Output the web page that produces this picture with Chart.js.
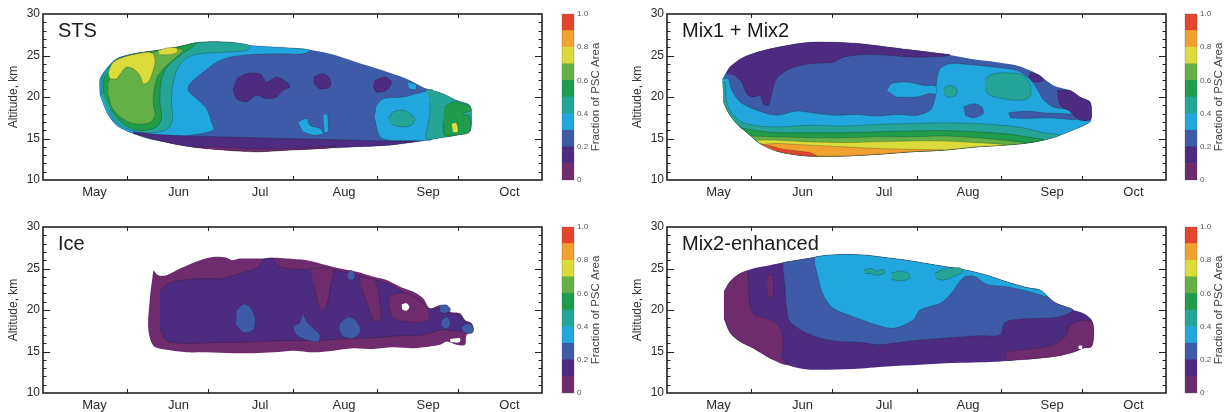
<!DOCTYPE html>
<html>
<head>
<meta charset="utf-8">
<script src="https://cdn.jsdelivr.net/npm/chart.js@4.4.0/dist/chart.umd.min.js"></script>
<style>
  body { margin: 0; background: #fff; width: 1231px; height: 412px; overflow: hidden; position: relative; }
  canvas { position: absolute; }
</style>
</head>
<body>
<canvas id="p0" width="545" height="206" style="left:0;top:0"></canvas>
<canvas id="c0" width="52" height="206" style="left:556px;top:0"></canvas>
<canvas id="p1" width="545" height="206" style="left:624px;top:0"></canvas>
<canvas id="c1" width="52" height="206" style="left:1179px;top:0"></canvas>
<canvas id="p2" width="545" height="206" style="left:0;top:213px"></canvas>
<canvas id="c2" width="52" height="206" style="left:556px;top:213px"></canvas>
<canvas id="p3" width="545" height="206" style="left:624px;top:213px"></canvas>
<canvas id="c3" width="52" height="206" style="left:1179px;top:213px"></canvas>
<script>
//<![CDATA[

// x axis = days since 1 May
const monthNames = ['May', 'Jun', 'Jul', 'Aug', 'Sep', 'Oct'];
const monthLabelDay = [19, 50, 80, 111, 142, 172];
const monthStartDay = [31, 61, 92, 123, 153];
const altTicks = [11, 12, 13, 14, 15, 16, 17, 18, 19, 20, 21, 22, 23, 24, 25, 26, 27, 28, 29];
const barTicks = [0, 0.2, 0.4, 0.6, 0.8, 1.0];
const levelColors = ['#6e2c6f', '#4c2b80', '#3d5ba6', '#21a7dd', '#24a597', '#1f9d4b', '#63b146', '#dbdb3c', '#f0a130', '#e3452d'];

// contour regions: [level, [[day, km], ...]], painted in order (level -1 = no data)
const stsRegions = [
  [2, [[21.0,22.2],[23.4,23.4],[27.1,24.6],[33.3,25.2],[41.9,25.6],[49.2,26.0],[57.8,26.6],[68.9,26.6],[76.3,26.2],[86.1,26.0],[95.9,25.8],[105.8,25.2],[115.6,24.2],[125.4,23.2],[134.0,22.2],[141.4,21.0],[147.5,20.4],[152.4,19.6],[157.3,19.0],[158.0,17.8],[157.3,15.8],[152.4,15.4],[145.1,15.0],[137.7,14.6],[127.9,14.2],[115.6,14.0],[103.3,13.8],[91.0,13.6],[78.7,13.4],[66.4,13.6],[54.2,14.0],[41.9,14.8],[33.3,15.6],[27.1,16.6],[23.4,18.2],[21.0,20.2]]],
  [3, [[21.0,20.2],[21.0,22.2],[23.4,23.4],[27.1,24.6],[33.3,25.2],[41.9,25.6],[49.2,26.0],[57.8,26.6],[68.9,26.6],[76.3,26.2],[86.1,26.0],[95.9,25.8],[98.4,25.6],[95.9,25.2],[86.1,25.2],[76.3,25.1],[68.9,24.8],[64.0,24.2],[59.1,23.0],[54.2,21.6],[53.5,20.8],[56.6,19.8],[60.3,18.6],[62.1,17.0],[62.8,16.0],[54.2,15.4],[41.9,14.8],[33.3,15.6],[27.1,16.6],[23.4,18.2]]],
  [4, [[21.6,20.2],[21.6,22.2],[23.8,23.4],[27.1,24.5],[33.3,25.2],[41.9,25.6],[49.2,26.0],[57.8,26.6],[68.9,26.6],[76.3,26.2],[75.0,25.6],[66.4,25.4],[57.8,25.2],[52.9,24.7],[49.9,23.6],[48.0,21.8],[47.4,19.4],[47.8,17.4],[46.2,16.2],[40.6,15.7],[33.3,15.9],[27.1,16.9],[24.1,18.4]]],
  [5, [[22.4,20.4],[22.4,22.2],[24.7,23.2],[27.1,24.4],[33.3,25.1],[41.9,25.6],[49.2,26.0],[56.6,26.5],[54.2,25.8],[50.5,25.0],[46.2,23.8],[43.7,22.2],[43.1,19.4],[43.7,17.4],[41.9,16.4],[38.2,16.0],[33.3,16.1],[28.4,17.1],[24.7,18.6]]],
  [6, [[24.1,21.8],[25.9,23.0],[29.6,24.2],[35.7,25.0],[41.9,25.5],[49.2,25.9],[51.7,25.6],[49.2,24.8],[45.0,23.6],[41.9,22.2],[40.6,19.4],[41.3,17.8],[39.4,16.9],[33.3,16.8],[28.4,17.6],[25.3,18.8],[24.1,20.2]]],
  [7, [[24.1,23.0],[25.9,24.2],[30.8,24.9],[38.2,25.4],[40.6,25.2],[41.3,24.2],[40.0,22.6],[38.8,21.8],[37.0,21.6],[35.7,22.6],[33.3,23.4],[30.8,23.6],[29.0,23.0],[27.1,22.2],[24.7,22.2]]],
  [7, [[42.5,25.6],[45.6,25.9],[49.2,25.9],[49.5,25.4],[46.8,25.1],[43.1,25.1]]],
  [1, [[33.3,15.8],[41.9,15.5],[54.2,15.3],[66.4,15.2],[78.7,15.1],[91.0,15.0],[103.3,14.9],[115.6,14.8],[127.9,14.7],[139.0,14.7],[140.5,14.75],[137.7,14.6],[127.9,14.2],[115.6,14.0],[103.3,13.8],[91.0,13.6],[78.7,13.4],[66.4,13.6],[54.2,14.0],[41.9,14.8],[33.3,15.6]]],
  [0, [[55.0,13.95],[66.0,13.95],[80.0,13.75],[95.0,13.85],[108.0,14.05],[103.3,13.8],[91.0,13.6],[78.7,13.4],[66.4,13.6]]],
  [1, [[71.4,22.2],[75.0,22.8],[80.0,22.8],[82.4,21.8],[86.1,22.4],[89.8,21.8],[91.0,21.2],[88.6,20.8],[86.1,20.0],[82.4,19.8],[78.7,20.2],[75.0,19.4],[71.4,19.8],[70.1,21.0]]],
  [1, [[99.6,22.4],[103.3,22.8],[105.8,22.2],[105.8,21.2],[102.1,21.0],[99.9,21.6]]],
  [1, [[122.3,22.0],[126.0,22.4],[128.5,21.8],[126.6,20.8],[122.9,20.6],[121.7,21.4]]],
  [3, [[94.1,17.0],[97.2,17.4],[98.4,16.6],[102.1,16.2],[103.3,15.6],[99.6,15.4],[95.9,15.8]]],
  [3, [[103.3,17.8],[104.8,18.0],[105.1,15.8],[103.9,15.7]]],
  [3, [[134.5,21.8],[137.5,21.5],[137.5,20.9],[135.0,21.0]]],
  [3, [[123.0,19.0],[125.4,19.8],[132.8,20.0],[140.1,20.6],[143.8,20.8],[143.8,15.0],[140.1,14.75],[135.2,14.75],[127.9,14.8],[124.2,15.2],[122.3,17.4]]],
  [4, [[127.3,17.4],[129.1,18.2],[132.8,18.4],[135.2,18.0],[137.1,17.4],[135.9,16.6],[131.6,16.4],[128.5,16.7]]],
  [4, [[141.4,21.0],[147.5,20.4],[152.4,19.6],[157.3,19.0],[158.0,17.8],[157.3,15.8],[152.4,15.4],[145.1,15.0],[141.4,14.9],[141.4,15.8],[142.6,17.8],[142.6,19.4]]],
  [5, [[148.1,18.8],[151.2,19.4],[154.9,19.2],[157.3,18.9],[158.0,18.4],[154.9,18.0],[157.3,17.6],[157.3,15.8],[152.4,15.4],[148.1,15.4],[147.5,17.0]]],
  [7, [[150.7,16.8],[152.4,16.9],[153.0,15.8],[151.2,15.7]]]
];

const mixRegions = [
  [2, [[20.5,22.2],[23.2,23.6],[28.2,24.8],[35.5,25.6],[44.1,26.2],[52.7,26.6],[62.6,26.6],[72.4,26.4],[82.2,26.0],[92.1,25.6],[101.9,25.2],[111.7,24.6],[121.6,24.2],[129.0,23.8],[133.9,23.2],[137.5,22.6],[142.5,21.4],[148.6,20.8],[152.3,20.0],[156.0,19.4],[156.6,17.8],[156.0,17.0],[151.1,16.2],[144.9,15.4],[138.8,14.8],[131.4,14.4],[124.0,14.2],[114.2,14.0],[101.9,13.6],[89.6,13.4],[77.3,13.1],[65.0,12.9],[52.7,12.9],[46.6,13.1],[40.4,13.5],[34.3,14.4],[30.6,15.4],[26.3,16.6],[23.2,17.8],[20.8,19.4]]],
  [1, [[22.0,22.8],[23.2,23.6],[28.2,24.8],[35.5,25.6],[44.1,26.2],[52.7,26.6],[62.6,26.6],[72.4,26.4],[82.2,26.0],[92.1,25.6],[101.9,25.2],[104.4,25.1],[101.9,24.9],[92.1,24.8],[82.2,25.0],[72.4,25.1],[65.0,24.8],[61.3,24.2],[52.7,24.0],[45.4,23.4],[40.4,22.2],[38.6,20.4],[37.4,19.0],[35.5,19.2],[34.3,20.2],[31.8,20.0],[29.4,20.4],[27.5,21.8],[25.1,22.6]]],
  [1, [[133.9,23.0],[137.5,22.6],[138.8,22.0],[135.7,21.8],[133.2,22.4]]],
  [3, [[20.5,22.2],[22.6,22.2],[23.9,20.8],[27.0,19.4],[33.1,18.4],[40.4,17.8],[47.8,18.3],[55.2,18.0],[62.6,17.8],[69.9,17.9],[77.3,17.7],[84.7,17.9],[92.1,17.8],[97.0,18.4],[98.8,19.8],[99.4,21.8],[100.7,23.4],[104.4,24.0],[111.7,23.9],[120.3,23.6],[129.0,23.2],[133.0,22.4],[136.5,21.0],[138.5,19.8],[142.5,18.8],[149.8,18.4],[156.0,17.4],[156.0,17.0],[151.1,16.2],[144.9,15.4],[138.8,14.8],[131.4,14.4],[124.0,14.2],[114.2,14.0],[101.9,13.6],[89.6,13.4],[77.3,13.1],[65.0,12.9],[52.7,12.9],[46.6,13.1],[40.4,13.5],[34.3,14.4],[30.6,15.4],[26.3,16.6],[23.2,17.8],[20.8,19.4]]],
  [3, [[81.0,20.8],[82.8,21.6],[88.4,21.8],[94.5,21.4],[99.2,21.3],[99.2,20.4],[96.4,20.4],[92.1,20.0],[84.7,20.0]]],
  [2, [[109.3,18.8],[113.0,19.2],[116.0,18.8],[116.6,18.0],[113.0,17.5],[109.9,17.8]]],
  [2, [[125.9,18.1],[132.6,18.3],[138.8,18.1],[144.9,18.0],[151.1,17.8],[151.1,17.3],[144.9,17.4],[138.8,17.5],[132.6,17.4],[126.5,17.5]]],
  [4, [[117.3,22.2],[120.3,22.8],[126.5,22.9],[131.5,22.6],[134.0,21.4],[133.8,20.0],[130.2,19.6],[124.0,19.8],[119.1,20.2],[117.3,21.0]]],
  [4, [[101.9,21.0],[104.4,21.4],[106.8,21.0],[106.6,20.2],[103.7,20.0],[102.1,20.4]]],
  [1, [[143.7,20.8],[148.6,20.8],[152.3,20.0],[156.0,19.4],[156.6,17.8],[156.0,17.2],[152.3,17.2],[149.8,17.8],[148.0,18.4],[145.5,18.8],[144.3,19.6]]],
  [4, [[20.5,21.8],[21.4,21.8],[22.0,19.4],[24.5,17.8],[28.2,16.9],[34.3,16.5],[40.4,16.4],[52.7,16.6],[65.0,16.5],[77.3,16.7],[89.6,16.8],[101.9,16.9],[114.2,16.8],[126.5,16.5],[132.6,16.2],[138.8,15.7],[144.9,15.4],[138.8,14.8],[131.4,14.4],[124.0,14.2],[114.2,14.0],[101.9,13.6],[89.6,13.4],[77.3,13.1],[65.0,12.9],[52.7,12.9],[46.6,13.1],[40.4,13.5],[34.3,14.4],[30.6,15.4],[26.3,16.6],[23.2,17.8],[20.8,19.4]]],
  [5, [[26.9,16.3],[34.3,15.9],[40.4,15.7],[52.7,15.7],[65.0,15.7],[77.3,15.8],[89.6,15.9],[101.9,15.95],[114.2,15.8],[126.5,15.5],[132.6,15.2],[138.8,14.9],[138.8,14.8],[131.4,14.4],[124.0,14.2],[114.2,14.0],[101.9,13.6],[89.6,13.4],[77.3,13.1],[65.0,12.9],[52.7,12.9],[46.6,13.1],[40.4,13.5],[34.3,14.4],[30.6,15.4],[26.3,16.6]]],
  [6, [[31.2,15.3],[40.4,15.2],[52.7,15.1],[65.0,15.1],[77.3,15.2],[89.6,15.2],[101.9,15.3],[114.2,15.1],[124.0,14.8],[132.0,14.5],[131.4,14.4],[124.0,14.2],[114.2,14.0],[101.9,13.6],[89.6,13.4],[77.3,13.1],[65.0,12.9],[52.7,12.9],[46.6,13.1],[40.4,13.5],[34.3,14.4],[30.6,15.4]]],
  [7, [[33.1,14.8],[40.4,14.8],[52.7,14.6],[65.0,14.5],[77.3,14.6],[89.6,14.7],[101.9,14.7],[114.2,14.5],[124.0,14.3],[124.0,14.2],[114.2,14.0],[101.9,13.6],[89.6,13.4],[77.3,13.1],[65.0,12.9],[52.7,12.9],[46.6,13.1],[40.4,13.5],[34.3,14.4]]],
  [8, [[35.5,14.3],[40.4,14.4],[46.6,14.3],[52.7,14.2],[65.0,14.0],[77.3,13.8],[89.6,13.7],[101.9,13.6],[89.6,13.4],[77.3,13.1],[65.0,12.9],[52.7,12.9],[46.6,13.1],[40.4,13.5],[35.5,14.1]]],
  [9, [[34.3,14.4],[38.0,14.1],[42.9,13.7],[47.8,13.5],[52.7,13.3],[55.2,12.9],[52.7,12.9],[46.6,13.1],[40.4,13.5]]]
];

const iceRegions = [
  [0, [[40.7,24.8],[42.5,24.2],[45.6,24.2],[50.5,25.0],[57.9,26.0],[62.8,26.4],[67.7,26.3],[69.6,26.0],[72.6,26.2],[80.0,26.2],[85.0,26.3],[89.8,26.2],[97.2,26.0],[104.6,25.4],[109.5,25.0],[115.7,24.6],[121.8,24.0],[126.7,23.6],[131.6,22.8],[136.6,22.2],[140.2,21.4],[142.7,20.2],[146.4,20.6],[148.9,20.4],[150.1,19.8],[153.8,19.6],[155.6,18.8],[158.1,18.4],[158.7,17.4],[156.2,17.0],[155.6,15.8],[152.5,15.8],[148.9,16.2],[146.4,15.8],[142.7,15.6],[136.6,15.4],[129.2,15.5],[121.8,15.3],[114.4,15.4],[107.1,15.1],[99.7,14.9],[92.3,15.1],[85.0,14.9],[77.6,14.8],[70.2,14.8],[60.4,14.9],[53.0,14.9],[45.6,15.2],[40.7,15.7],[38.8,17.8],[39.5,21.8]]],
  [1, [[43.1,22.2],[45.6,23.1],[49.3,23.5],[54.2,23.7],[60.4,23.8],[66.5,23.8],[72.6,24.4],[77.6,24.9],[80.0,25.4],[81.2,26.1],[85.0,26.2],[86.2,25.4],[89.8,25.0],[94.8,24.9],[98.5,24.9],[102.1,25.0],[109.5,24.7],[115.7,24.2],[121.8,23.7],[128.0,23.1],[131.6,22.4],[135.3,21.8],[139.0,21.2],[141.5,20.2],[146.4,20.2],[150.1,19.6],[153.8,19.4],[155.6,18.6],[158.1,18.2],[158.4,17.5],[156.2,17.3],[151.3,17.5],[146.4,17.6],[142.7,17.2],[137.8,16.9],[131.6,16.9],[124.3,16.7],[116.9,16.6],[109.5,16.5],[102.1,16.3],[94.8,16.3],[87.4,16.3],[80.0,16.2],[72.6,16.1],[65.3,16.1],[57.9,16.0],[50.5,16.0],[45.6,16.3],[43.1,17.8]]],
  [0, [[98.5,25.0],[107.1,24.9],[106.1,23.0],[104.0,20.0],[102.1,20.2],[99.9,23.0]]],
  [0, [[116.9,24.0],[122.4,23.6],[124.0,21.4],[124.5,18.7],[121.8,18.8],[119.3,21.0],[117.1,22.8]]],
  [0, [[128.0,21.8],[132.9,22.1],[137.8,21.4],[141.7,20.2],[142.7,19.0],[139.0,18.5],[134.1,18.6],[129.2,19.0],[127.7,20.2]]],
  [2, [[71.4,20.0],[73.9,20.7],[76.3,20.4],[78.2,19.0],[77.6,17.6],[73.9,17.3],[71.2,18.2]]],
  [2, [[96.0,19.6],[97.2,18.6],[99.7,17.8],[102.1,17.0],[101.5,16.2],[97.2,16.4],[93.5,17.0],[92.3,18.0],[94.8,18.4]]],
  [2, [[109.5,18.4],[112.6,19.2],[115.7,18.6],[117.1,17.4],[114.4,16.6],[110.7,16.8],[109.3,17.6]]],
  [2, [[112.2,24.4],[113.8,24.8],[115.0,24.2],[114.2,23.6],[112.6,23.7]]],
  [2, [[146.4,20.6],[148.9,20.6],[150.3,20.0],[148.2,19.6],[146.4,19.8]]],
  [2, [[147.0,18.8],[148.9,19.2],[150.3,18.4],[148.9,17.7],[147.0,18.0]]],
  [2, [[154.4,18.0],[156.8,18.4],[158.7,17.8],[158.1,17.2],[155.0,17.3]]],
  [-1, [[132.3,20.7],[134.1,20.8],[135.1,20.3],[133.9,19.9],[132.4,20.1]]],
  [-1, [[150.1,16.5],[153.8,16.6],[153.5,16.1],[150.3,16.1]]]
];

const enhRegions = [
  [1, [[21.0,22.2],[23.2,23.4],[26.9,24.4],[31.8,25.0],[38.0,25.4],[44.1,25.8],[51.5,26.2],[58.9,26.6],[66.2,26.7],[73.6,26.6],[81.0,26.3],[88.4,26.0],[95.7,25.6],[103.1,25.2],[110.5,24.8],[117.9,24.2],[125.2,23.4],[132.6,22.7],[137.5,22.4],[141.2,21.4],[143.7,20.8],[149.8,20.0],[153.5,19.6],[156.6,18.8],[157.4,17.4],[156.6,15.6],[153.5,15.4],[149.8,14.9],[144.9,14.5],[137.5,14.2],[130.2,14.0],[122.8,13.8],[115.4,13.7],[105.6,13.6],[93.3,13.4],[81.0,13.2],[68.7,12.9],[56.4,12.8],[50.3,12.9],[44.1,13.4],[38.0,14.2],[31.8,15.4],[26.9,16.2],[23.2,17.3],[21.0,19.0]]],
  [0, [[21.0,22.2],[23.2,23.4],[26.9,24.4],[29.6,24.6],[30.0,23.0],[30.6,20.6],[32.4,19.4],[36.7,19.0],[40.4,18.4],[42.3,17.4],[42.9,15.8],[42.3,14.4],[44.1,13.4],[38.0,14.2],[31.8,15.4],[26.9,16.2],[23.2,17.3],[21.0,19.0]]],
  [0, [[36.7,24.0],[38.9,24.2],[39.2,21.8],[37.4,21.4]]],
  [2, [[42.9,25.7],[44.1,25.8],[51.5,26.2],[58.9,26.6],[66.2,26.7],[73.6,26.6],[81.0,26.3],[88.4,26.0],[95.7,25.6],[103.1,25.2],[110.5,24.8],[117.9,24.2],[125.2,23.4],[132.6,22.7],[137.5,22.4],[141.2,21.4],[143.7,20.8],[149.8,20.0],[144.9,19.2],[137.5,19.0],[130.2,18.9],[124.6,18.5],[122.8,17.0],[115.4,16.9],[105.6,16.7],[98.2,16.5],[90.8,16.3],[83.5,16.0],[77.3,15.8],[71.2,16.1],[63.8,16.2],[56.4,16.6],[50.3,17.4],[45.3,18.6],[44.1,20.2],[43.5,22.6],[42.9,24.6]]],
  [3, [[54.6,26.4],[58.9,26.6],[66.2,26.7],[73.6,26.6],[81.0,26.3],[88.4,26.0],[95.7,25.6],[103.1,25.2],[110.5,24.8],[117.9,24.2],[125.2,23.4],[132.6,22.7],[137.5,22.4],[140.0,21.8],[140.0,21.6],[133.8,22.2],[125.2,22.8],[117.9,23.1],[113.0,24.1],[109.3,23.9],[104.3,21.8],[100.7,20.8],[93.3,20.0],[90.8,18.8],[83.5,17.8],[77.3,18.2],[68.7,19.2],[61.3,20.2],[57.6,21.8],[55.8,23.8],[54.6,25.4]]],
  [4, [[72.6,24.8],[75.5,25.0],[77.3,24.7],[79.8,24.9],[80.0,24.4],[77.3,24.2],[74.8,24.4],[73.0,24.4]]],
  [4, [[82.5,24.4],[85.9,24.7],[89.0,24.4],[89.4,23.8],[85.9,23.5],[82.8,23.7]]],
  [4, [[98.8,24.4],[101.9,24.9],[108.0,25.1],[109.0,24.6],[105.6,24.0],[101.9,23.6],[99.2,23.8]]],
  [0, [[125.2,15.0],[133.8,15.3],[142.4,15.8],[147.3,17.0],[148.6,18.2],[152.3,18.7],[156.6,18.6],[157.4,17.4],[156.6,15.6],[153.5,15.4],[149.8,14.9],[144.9,14.5],[137.5,14.2],[130.2,14.0],[125.2,13.9]]],
  [-1, [[151.7,15.7],[153.0,15.7],[153.0,15.3],[151.8,15.3]]]
];

const FONT = '"Liberation Sans", Arial, Helvetica, sans-serif';
Chart.defaults.font.family = FONT;

const panelFrame = {
  id: 'panelFrame',
  afterDatasetsDraw(chart, args, opts) {
    const {ctx, chartArea: a, scales: {x, y}} = chart;
    ctx.save();
    ctx.strokeStyle = '#222';
    ctx.lineWidth = 1;
    ctx.beginPath();
    monthStartDay.forEach(d => {
      const px = Math.round(x.getPixelForValue(d)) + 0.5;
      ctx.moveTo(px, a.bottom); ctx.lineTo(px, a.bottom - 4);
      ctx.moveTo(px, a.top); ctx.lineTo(px, a.top + 4);
    });
    altTicks.forEach(v => {
      const py = Math.round(y.getPixelForValue(v)) + 0.5;
      const len = v % 5 === 0 ? 7 : 3.5;
      ctx.moveTo(a.left, py); ctx.lineTo(a.left + len, py);
      ctx.moveTo(a.right, py); ctx.lineTo(a.right - len, py);
    });
    ctx.stroke();
    ctx.lineWidth = 1.6;
    ctx.strokeRect(a.left, a.top, a.width, a.height);
    ctx.fillStyle = '#1a1a1a';
    ctx.font = '20px ' + FONT;
    ctx.textBaseline = 'top';
    ctx.fillText(opts.title, a.left + 15, a.top + 7);
    ctx.restore();
  }
};

const barTitle = {
  id: 'barTitle',
  afterDraw(chart) {
    const {ctx, chartArea: a} = chart;
    ctx.save();
    ctx.strokeStyle = 'rgba(80,80,80,0.35)';
    ctx.lineWidth = 0.8;
    ctx.strokeRect(a.left, a.top, a.width, a.height);
    ctx.translate(a.right + 22, (a.top + a.bottom) / 2);
    ctx.rotate(-Math.PI / 2);
    ctx.fillStyle = '#444';
    ctx.font = '11.5px ' + FONT;
    ctx.textAlign = 'center';
    ctx.textBaseline = 'middle';
    ctx.fillText('Fraction of PSC Area', 0, 0);
    ctx.restore();
  }
};

function makePanel(id, title, regions) {
  const datasets = regions.map((r, i) => ({
    data: r[1].map(p => ({x: p[0], y: p[1]})),
    showLine: true,
    fill: 'shape',
    backgroundColor: r[0] < 0 ? '#ffffff' : levelColors[r[0]],
    borderColor: i === 0 ? 'rgba(0,0,0,0)' : 'rgba(25,25,25,0.42)',
    borderWidth: i === 0 || r[0] < 0 ? 0 : 0.6,
    tension: 0.3,
    pointRadius: 0,
    pointHoverRadius: 0,
    order: -i
  }));
  new Chart(document.getElementById(id), {
    type: 'scatter',
    data: {datasets},
    plugins: [panelFrame],
    options: {
      responsive: false,
      animation: false,
      events: [],
      layout: {padding: {top: 14, right: 3, left: 0, bottom: 0}},
      plugins: {
        legend: {display: false},
        tooltip: {enabled: false},
        panelFrame: {title}
      },
      scales: {
        x: {
          type: 'linear', min: 0, max: 184,
          grid: {display: false, drawTicks: false},
          border: {display: false},
          afterBuildTicks: s => { s.ticks = monthLabelDay.map(v => ({value: v})); },
          afterFit: s => { s.height = 26; },
          ticks: {autoSkip: false, maxRotation: 0, padding: 5, color: '#2a2a2a', font: {size: 13},
                  callback: (v, i) => monthNames[i]}
        },
        y: {
          min: 10, max: 30,
          grid: {display: false, drawTicks: false},
          border: {display: false},
          afterFit: s => { s.width = 43; },
          ticks: {stepSize: 5, padding: 3, color: '#2a2a2a', font: {size: 12}},
          title: {display: true, text: 'Altitude, km', color: '#333', font: {size: 12}, padding: {top: 6, bottom: 0}}
        }
      }
    }
  });
}

function makeBar(id) {
  new Chart(document.getElementById(id), {
    type: 'bar',
    data: {
      labels: [''],
      datasets: levelColors.map(c => ({data: [0.1], backgroundColor: c, barPercentage: 1, categoryPercentage: 1}))
    },
    plugins: [barTitle],
    options: {
      responsive: false,
      animation: false,
      events: [],
      layout: {padding: {top: 14, bottom: 26, left: 6, right: 0}},
      plugins: {legend: {display: false}, tooltip: {enabled: false}},
      scales: {
        x: {stacked: true, display: false},
        y: {
          stacked: true, position: 'right', min: 0, max: 1,
          grid: {display: false, drawTicks: false},
          border: {display: false},
          afterFit: s => { s.width = 34; },
          afterBuildTicks: s => { s.ticks = barTicks.map(v => ({value: v})); },
          ticks: {padding: 3, color: '#555', font: {size: 8}, callback: v => v === 0 ? '0' : v.toFixed(1)}
        }
      }
    }
  });
}

makePanel('p0', 'STS', stsRegions);
makePanel('p1', 'Mix1 + Mix2', mixRegions);
makePanel('p2', 'Ice', iceRegions);
makePanel('p3', 'Mix2-enhanced', enhRegions);
['c0', 'c1', 'c2', 'c3'].forEach(makeBar);

// ]]>
</script>
</body>
</html>
